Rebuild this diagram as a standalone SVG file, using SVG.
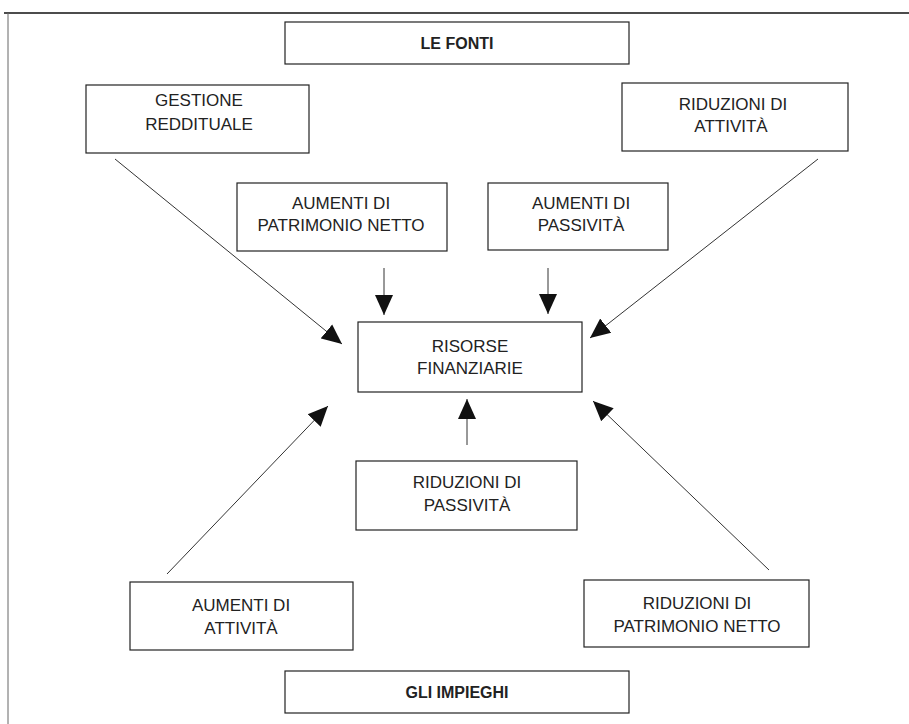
<svg xmlns="http://www.w3.org/2000/svg" width="909" height="724" viewBox="0 0 909 724">
<style>
.box{fill:#fff;stroke:#222;stroke-width:1.2}
.t{font-family:"Liberation Sans",Arial,sans-serif;font-size:17px;fill:#222;text-anchor:middle}
.b{font-weight:bold;font-size:16px}
.c{stroke:#333;stroke-width:1;fill:none;marker-end:url(#ah)}
</style>
<defs>
<marker id="ah" markerUnits="userSpaceOnUse" markerWidth="20" markerHeight="20" viewBox="0 0 20 20" refX="20" refY="10" orient="auto">
<path d="M0,1 L20,10 L0,19 Z" fill="#111"/>
</marker>
</defs>
<rect width="909" height="724" fill="#fff"/>
<g id="frame">
<line x1="4" y1="13" x2="909" y2="13" stroke="#111" stroke-width="1.5"/>
<line x1="8" y1="13" x2="8" y2="724" stroke="#666" stroke-width="1"/>
</g>
<g id="connectors">
<line class="c" x1="115" y1="159" x2="342" y2="344"/>
<line class="c" x1="384" y1="268" x2="384" y2="315"/>
<line class="c" x1="548" y1="268" x2="548" y2="314"/>
<line class="c" x1="818" y1="159" x2="590" y2="338"/>
<line class="c" x1="467" y1="445" x2="467" y2="399"/>
<line class="c" x1="167" y1="574" x2="328" y2="406"/>
<line class="c" x1="769" y1="570" x2="593" y2="401"/>
</g>
<g id="le-fonti">
<rect class="box" x="285" y="22" width="344" height="42"/>
<text class="t b" x="457" y="49">LE FONTI</text>
</g>
<g id="gestione-reddituale">
<rect class="box" x="86" y="85" width="223" height="68"/>
<text class="t" x="199" y="106">GESTIONE</text>
<text class="t" x="199" y="130">REDDITUALE</text>
</g>
<g id="riduzioni-attivita">
<rect class="box" x="622" y="83" width="226" height="68"/>
<text class="t" x="733" y="110">RIDUZIONI DI</text>
<text class="t" x="731" y="132">ATTIVITÀ</text>
</g>
<g id="aumenti-pn">
<rect class="box" x="237" y="183" width="210" height="68"/>
<text class="t" x="341" y="209">AUMENTI DI</text>
<text class="t" x="341" y="231">PATRIMONIO NETTO</text>
</g>
<g id="aumenti-passivita">
<rect class="box" x="488" y="183" width="180" height="67"/>
<text class="t" x="581" y="209">AUMENTI DI</text>
<text class="t" x="581" y="231">PASSIVITÀ</text>
</g>
<g id="risorse-finanziarie">
<rect class="box" x="358" y="322" width="224" height="70"/>
<text class="t" x="470" y="352">RISORSE</text>
<text class="t" x="470" y="374">FINANZIARIE</text>
</g>
<g id="riduzioni-passivita">
<rect class="box" x="356" y="461" width="221" height="69"/>
<text class="t" x="467" y="488">RIDUZIONI DI</text>
<text class="t" x="467" y="511">PASSIVITÀ</text>
</g>
<g id="aumenti-attivita">
<rect class="box" x="130" y="582" width="223" height="68"/>
<text class="t" x="241" y="611">AUMENTI DI</text>
<text class="t" x="241" y="634">ATTIVITÀ</text>
</g>
<g id="riduzioni-pn">
<rect class="box" x="584" y="580" width="225" height="67"/>
<text class="t" x="697" y="609">RIDUZIONI DI</text>
<text class="t" x="697" y="632">PATRIMONIO NETTO</text>
</g>
<g id="gli-impieghi">
<rect class="box" x="285" y="671" width="344" height="42"/>
<text class="t b" x="457" y="698">GLI IMPIEGHI</text>
</g>
</svg>
